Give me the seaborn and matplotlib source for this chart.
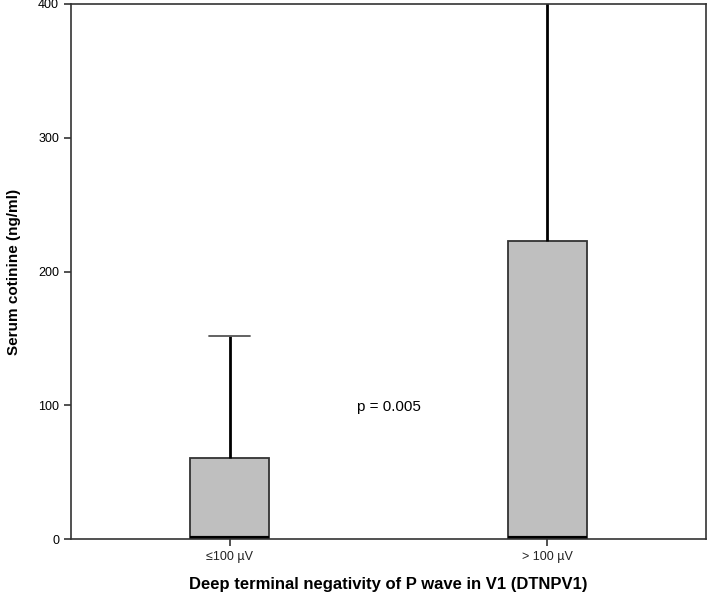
"""
Serum cotinine by deep terminal negativity of P wave in V1 (SPSS-style boxplot)
"""

import numpy as np
import pandas as pd
import matplotlib
matplotlib.use("Agg")
import matplotlib.pyplot as plt
import seaborn as sns

# five-number summaries: min, Q1, median, Q3, max
groups = ["\u2264100 \u00b5V", "> 100 \u00b5V"]
low_summary = [0, 0, 1, 60.5, 151.5]
high_summary = [0, 0, 1, 222.5, 470]
y_ticks = [0, 100, 200, 300, 400]
p_text = "p = 0.005"

df = pd.DataFrame({
    "group": [groups[0]] * len(low_summary) + [groups[1]] * len(high_summary),
    "value": low_summary + high_summary,
})

sns.set_theme(style="white")
plt.rcParams["font.family"] = ["Liberation Sans", "DejaVu Sans"]

fig = plt.figure(figsize=(7.09, 5.96), dpi=100)
ax = fig.add_axes([0.100, 0.0956, 0.896, 0.8977])

sns.boxplot(data=df, x="group", y="value", order=groups, whis=np.inf,
            width=0.25, color="#bfbfbf", linecolor="#333333", linewidth=1.3,
            fill=True, saturation=1, ax=ax,
            medianprops={"color": "black", "linewidth": 3},
            whiskerprops={"color": "black", "linewidth": 2},
            capprops={"color": "#555555", "linewidth": 1.3},
            capwidths=0.13)

ax.text(0.5, 99, p_text, ha="center", va="center", fontsize=11, color="black")

ax.set_ylim(0, 400)
ax.set_xlim(-0.5, 1.5)
ax.set_yticks(y_ticks)
ax.set_yticklabels([str(t) for t in y_ticks], fontsize=9)
ax.tick_params(axis="x", labelsize=9, length=5, width=1.2, color="#333333",
               labelcolor="#222222", direction="out", bottom=True)
ax.tick_params(axis="y", length=5, width=1.2, color="#333333",
               labelcolor="black", direction="out", left=True)

for side in ["left", "right", "top", "bottom"]:
    ax.spines[side].set_visible(True)
    ax.spines[side].set_color("#333333")
    ax.spines[side].set_linewidth(1.2)

ax.set_xlabel("Deep terminal negativity of P wave in V1 (DTNPV1)",
              fontsize=12, fontweight="bold", labelpad=10, color="black")
ax.set_ylabel("Serum cotinine (ng/ml)", fontsize=11, fontweight="bold",
              labelpad=12, color="black")

fig.savefig("out.png", dpi=100, facecolor="white")
